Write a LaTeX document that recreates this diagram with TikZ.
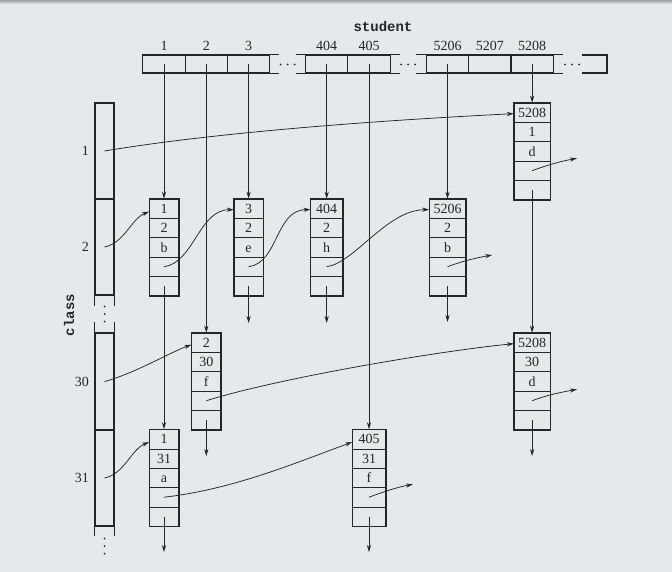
\documentclass[tikz,border=0pt]{standalone}
\usepackage{fontspec}
\setmainfont{Liberation Serif}
\setmonofont{Liberation Mono}
\usetikzlibrary{arrows.meta}
\definecolor{bg}{RGB}{231,232,234}
\definecolor{ink}{RGB}{38,38,38}
\newcommand\mklist[7]{%
  \foreach \i/\t in {1/{#5},2/{#6},3/{#7},4/{},5/{}}{%
    \node[lcell, minimum width=#4] (#1\i) at (#2,{#3+(\i-0.5)*19.35}) {\t};
  }%
  \draw[listframe] (#11.north west) rectangle (#15.south east);
}
\begin{document}
\begin{tikzpicture}[x=1pt,y=-1pt,
  font=\fontsize{14}{16.8}\selectfont,
  lcell/.style={draw=ink,line width=0.7pt,inner sep=0pt,minimum height=19.35pt,text height=9.5pt,text depth=0pt,text=ink},
  listframe/.style={draw=ink,line width=1.3pt},
  scell/.style={draw=ink,line width=1.2pt,inner sep=0pt,minimum width=42.3pt,minimum height=18pt},
  ccell/.style={draw=ink,line width=1.2pt,inner sep=0pt,minimum width=19pt},
  cbar/.style={draw=ink,line width=1.2pt},
  lab/.style={inner sep=0pt,text height=9.5pt,text depth=0pt,text=ink},
  ptr/.style={draw=ink,line width=0.75pt,-{Stealth[length=7pt,width=4.2pt]}}]
\useasboundingbox (0,0) rectangle (672,572);
\fill[bg] (0,0) rectangle (672,572);
\shade[top color=gray!75, bottom color=bg] (0,0) rectangle (672,4);

% student array
\node[text=ink,font=\fontsize{14}{16}\selectfont\ttfamily\bfseries] (student) at (383,26) {student};
\foreach \n/\x in {1/164,2/206.3,3/248.6,404/326.7,405/369,5206/447.5,5207/489.8,5208/532.1}{%
  \node[scell] (s\n) at (\x,64) {};
  \node[lab] (t\n) at (\x,45.5) {\n};
}
\draw[cbar] (s3.north east) -- ++(9,0) (s3.south east) -- ++(9,0);
\draw[cbar] (s404.north west) -- ++(-8.5,0) (s404.south west) -- ++(-8.5,0);
\draw[cbar] (s405.north east) -- ++(9,0) (s405.south east) -- ++(9,0);
\draw[cbar] (s5206.north west) -- ++(-9.5,0) (s5206.south west) -- ++(-9.5,0);
\draw[cbar] (s5208.north east) -- ++(9.5,0) (s5208.south east) -- ++(9.5,0);
\draw[cbar] (582,55) -| (607,73) -- (582,73);
\foreach \x in {280.5,287.5,294.5,401,408,415,565,572,579}
  \fill[ink] (\x,64.5) circle (1pt);

% class array
\node[ccell,minimum height=96pt] (c1) at (104.5,151) {};
\node[ccell,minimum height=96pt] (c2) at (104.5,247) {};
\node[ccell,minimum height=97pt] (c30) at (104.5,381.5) {};
\node[ccell,minimum height=96pt] (c31) at (104.5,478) {};
\draw[cbar] (c2.south west) -- ++(0,10) (c2.south east) -- ++(0,10);
\draw[cbar] (c30.north west) -- ++(0,-10) (c30.north east) -- ++(0,-10);
\draw[cbar] (c31.south west) -- ++(0,9) (c31.south east) -- ++(0,9);
\foreach \y in {306.5,314,321.5,538.5,546,553.5}
  \fill[ink] (104.5,\y) circle (1pt);
\node[lab,anchor=east] (l1) at (89,151) {1};
\node[lab,anchor=east] (l2) at (89,247) {2};
\node[lab,anchor=east] (l30) at (89,381.5) {30};
\node[lab,anchor=east] (l31) at (89,478) {31};
\node[text=ink,rotate=90,font=\fontsize{14}{16}\selectfont\ttfamily\bfseries] (class) at (69,315) {class};

% list nodes
\mklist{E}{532.1}{103}{36pt}{5208}{1}{d}
\mklist{A}{164}{199}{29pt}{1}{2}{b}
\mklist{B}{248.6}{199}{29pt}{3}{2}{e}
\mklist{C}{326.7}{199}{32pt}{404}{2}{h}
\mklist{D}{447.5}{199}{36pt}{5206}{2}{b}
\mklist{F}{206.3}{333}{29pt}{2}{30}{f}
\mklist{G}{532.1}{333}{36pt}{5208}{30}{d}
\mklist{H}{164}{429.5}{29pt}{1}{31}{a}
\mklist{I}{369}{429.5}{33pt}{405}{31}{f}

% free ends
\coordinate (Dn) at (492,255);
\coordinate (En) at (577,158.3);
\coordinate (Gn) at (577,389.3);
\coordinate (In) at (413,484.3);
\coordinate (Bd) at (248.6,323);
\coordinate (Cd) at (326.7,323);
\coordinate (Dd) at (447.5,322);
\coordinate (Fd) at (206.3,456);
\coordinate (Gd) at (532.1,456);
\coordinate (Hd) at (164,552);
\coordinate (Id) at (369,552);

% student pointers
\draw[ptr] (s1.center) -- (A1.north);
\draw[ptr] (s2.center) -- (F1.north);
\draw[ptr] (s3.center) -- (B1.north);
\draw[ptr] (s404.center) -- (C1.north);
\draw[ptr] (s405.center) -- (I1.north);
\draw[ptr] (s5206.center) -- (D1.north);
\draw[ptr] (s5208.center) -- (E1.north);

% column pointers
\draw[ptr] (A5.center) -- (H1.north);
\draw[ptr] (E5.center) -- (G1.north);
\draw[ptr] (B5.center) -- (Bd);
\draw[ptr] (C5.center) -- (Cd);
\draw[ptr] (D5.center) -- (Dd);
\draw[ptr] (F5.center) -- (Fd);
\draw[ptr] (G5.center) -- (Gd);
\draw[ptr] (H5.center) -- (Hd);
\draw[ptr] (I5.center) -- (Id);

% row pointers
\draw[ptr] (A4.center) .. controls +(30,-4) and +(-35,0) .. ([yshift=-1pt]B1.west);
\draw[ptr] (B4.center) .. controls +(30,-4) and +(-35,0) .. ([yshift=-1pt]C1.west);
\draw[ptr] (C4.center) .. controls +(28,-4) and +(-42,0) .. ([yshift=-1pt]D1.west);
\draw[ptr] (D4.center) .. controls +(16,-6) and +(-16,3) .. (Dn);
\draw[ptr] (E4.center) .. controls +(16,-6) and +(-16,3) .. (En);
\draw[ptr] (G4.center) .. controls +(16,-6) and +(-16,3) .. (Gn);
\draw[ptr] (I4.center) .. controls +(16,-6) and +(-16,3) .. (In);
\draw[ptr] (F4.center) .. controls +(70,-22) and +(-80,8) .. ([yshift=-1pt]G1.west);
\draw[ptr] (H4.center) .. controls +(70,-8) and +(-55,20) .. ([yshift=-3pt]I1.west);

% class pointers
\draw[ptr] (c1.center) .. controls +(120,-20) and +(-120,6) .. ([yshift=-1pt]E1.west);
\draw[ptr] (c2.center) .. controls +(20,-4) and +(-18,7) .. ([yshift=-3pt]A1.west);
\draw[ptr] (c30.center) .. controls +(30,-8) and +(-22,8) .. ([yshift=-2pt]F1.west);
\draw[ptr] (c31.center) .. controls +(20,-4) and +(-18,7) .. ([yshift=-3pt]H1.west);
\end{tikzpicture}
\end{document}
